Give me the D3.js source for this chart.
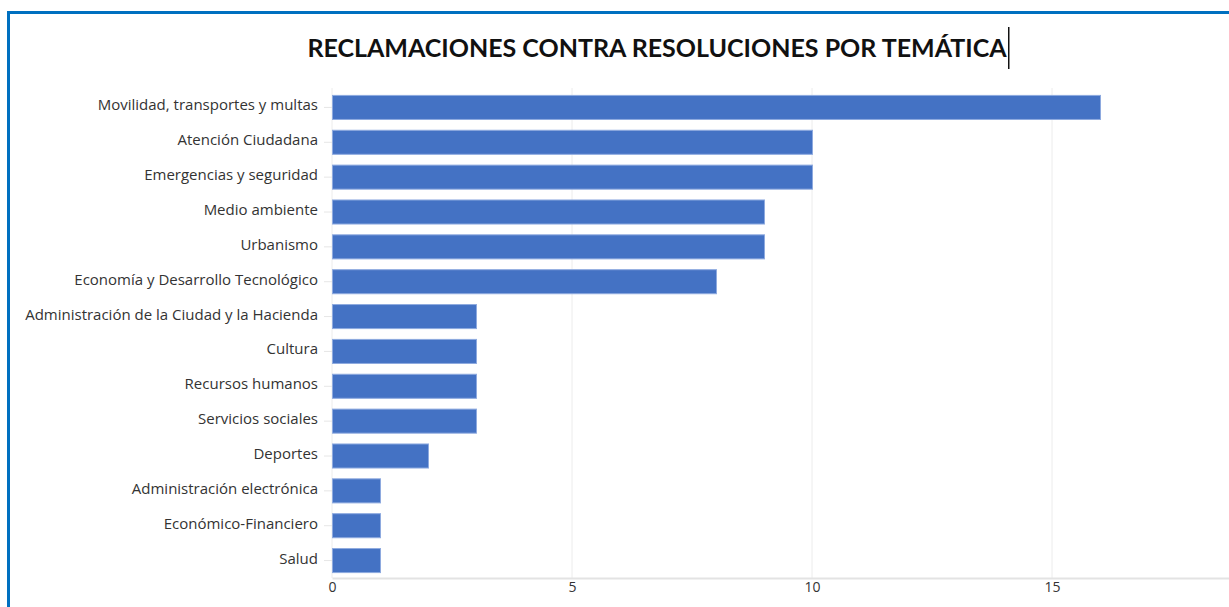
<!DOCTYPE html>
<html>
<head>
<meta charset="utf-8">
<script src="https://cdn.jsdelivr.net/npm/d3@7"></script>
<style>
  body { margin: 0; background: #fff; }
  svg { display: block; }
</style>
</head>
<body>
<div id="chart"></div>
<script>
// Chart data
const categories = [
    "Movilidad, transportes y multas",
    "Atención Ciudadana",
    "Emergencias y seguridad",
    "Medio ambiente",
    "Urbanismo",
    "Economía y Desarrollo Tecnológico",
    "Administración de la Ciudad y la Hacienda",
    "Cultura",
    "Recursos humanos",
    "Servicios sociales",
    "Deportes",
    "Administración electrónica",
    "Económico-Financiero",
    "Salud"
];
const values = [16, 10, 10, 9, 9, 8, 3, 3, 3, 3, 2, 1, 1, 1];
const xTicks = [0, 5, 10, 15];
const title = "RECLAMACIONES CONTRA RESOLUCIONES POR TEMÁTICA";

const width = 1229, height = 607;
const margin = { top: 90, left: 332, right: 0, bottom: 29 };

const svg = d3.select("#chart").append("svg")
    .attr("width", width)
    .attr("height", height);

// frame (blue border on top and left)
svg.append("path")
    .attr("d", `M8.5,${height} V12.5 H${width}`)
    .attr("fill", "none")
    .attr("stroke", "#0070c0")
    .attr("stroke-width", 3);

// scales
const x = d3.scaleLinear()
    .domain([0, 19])
    .range([margin.left, margin.left + 48 * 19]);

const y = d3.scaleBand()
    .domain(categories)
    .range([margin.top, height - margin.bottom])
    .paddingInner(0.31)
    .paddingOuter(0.155);

// gridlines
svg.append("g")
    .selectAll("line")
    .data(xTicks)
    .join("line")
    .attr("x1", d => x(d))
    .attr("x2", d => x(d))
    .attr("y1", margin.top - 2)
    .attr("y2", height - margin.bottom)
    .attr("stroke", "#ececec")
    .attr("stroke-width", 1);

// bars
svg.append("g")
    .selectAll("rect")
    .data(values)
    .join("rect")
    .attr("x", x(0) + 0.5)
    .attr("y", (d, i) => y(categories[i]))
    .attr("width", d => x(d) - x(0))
    .attr("height", y.bandwidth())
    .attr("fill", "#4472c4")
    .attr("stroke", "#8eaadf")
    .attr("stroke-width", 1);

// y axis
const yAxis = svg.append("g")
    .attr("transform", `translate(${margin.left},0)`)
    .call(d3.axisLeft(y).tickSize(8).tickPadding(6));
yAxis.select(".domain").remove();
yAxis.selectAll(".tick line").attr("stroke", "#e6e6e6");
yAxis.selectAll(".tick text")
    .attr("fill", "#333")
    .attr("dy", "0.2em")
    .style("font-family", "'Open Sans', sans-serif")
    .style("font-size", "15px");

// x axis
const xAxis = svg.append("g")
    .attr("transform", `translate(0,${height - margin.bottom})`)
    .call(d3.axisBottom(x).tickValues(xTicks).tickSize(0).tickPadding(4));
xAxis.select(".domain").attr("stroke", "#e3e3e3").attr("stroke-width", 2);
xAxis.selectAll(".tick text")
    .attr("fill", "#333")
    .style("font-family", "'Open Sans', sans-serif")
    .style("font-size", "14px");

// title
const t = svg.append("text")
    .attr("x", 657)
    .attr("y", 57)
    .attr("text-anchor", "middle")
    .style("font-family", "Lato, sans-serif")
    .style("font-weight", "bold")
    .style("font-size", "25px")
    .attr("fill", "#111")
    .text(title);

// text cursor after title
const bb = t.node().getBBox();
svg.append("line")
    .attr("x1", bb.x + bb.width + 1.5)
    .attr("x2", bb.x + bb.width + 1.5)
    .attr("y1", 27)
    .attr("y2", 69)
    .attr("stroke", "#111")
    .attr("stroke-width", 1.5);
</script>
</body>
</html>
